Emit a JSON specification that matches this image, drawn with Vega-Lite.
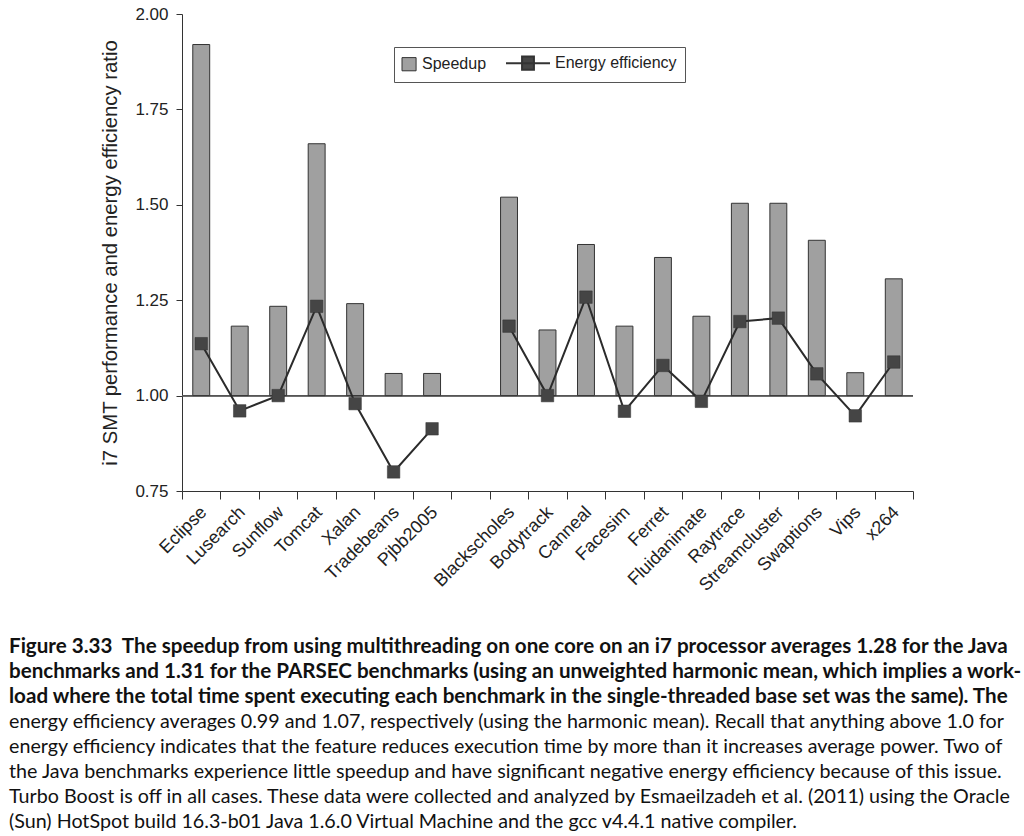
{
  "$schema": "https://vega.github.io/schema/vega-lite/v6.json",
  "autosize": {"type": "none"},
  "padding": {"left": 182, "top": 14, "right": 111, "bottom": 345},
  "width": 731,
  "height": 477,
  "background": "white",
  "title": {
    "text": [
      "Figure 3.33\u00a0 The speedup from using multithreading on one core on an i7 processor averages 1.28 for the Java",
      "benchmarks and 1.31 for the PARSEC benchmarks (using an unweighted harmonic mean, which implies a work-",
      "load where the total time spent executing each benchmark in the single-threaded base set was the same). The"
    ],
    "subtitle": [
      "energy efficiency averages 0.99 and 1.07, respectively (using the harmonic mean). Recall that anything above 1.0 for",
      "energy efficiency indicates that the feature reduces execution time by more than it increases average power. Two of",
      "the Java benchmarks experience little speedup and have significant negative energy efficiency because of this issue.",
      "Turbo Boost is off in all cases. These data were collected and analyzed by Esmaeilzadeh et al. (2011) using the Oracle",
      "(Sun) HotSpot build 16.3-b01 Java 1.6.0 Virtual Machine and the gcc v4.4.1 native compiler."
    ],
    "orient": "bottom",
    "anchor": "start",
    "frame": "group",
    "dx": -173,
    "offset": 43,
    "font": "Lato",
    "fontSize": 20.6,
    "fontWeight": "bold",
    "lineHeight": 25,
    "color": "#111111",
    "subtitleFont": "Lato",
    "subtitleFontSize": 19.7,
    "subtitleFontWeight": "normal",
    "subtitleLineHeight": 25,
    "subtitleColor": "#111111",
    "subtitlePadding": 4.5
  },
  "data": {
    "values": [
      {"b": "Eclipse", "g": "Java", "speedup": 1.92, "energy": 1.136},
      {"b": "Lusearch", "g": "Java", "speedup": 1.182, "energy": 0.96},
      {"b": "Sunflow", "g": "Java", "speedup": 1.234, "energy": 1.0},
      {"b": "Tomcat", "g": "Java", "speedup": 1.66, "energy": 1.234},
      {"b": "Xalan", "g": "Java", "speedup": 1.241, "energy": 0.979},
      {"b": "Tradebeans", "g": "Java", "speedup": 1.058, "energy": 0.8},
      {"b": "Pjbb2005", "g": "Java", "speedup": 1.058, "energy": 0.913},
      {"b": "Blackscholes", "g": "PARSEC", "speedup": 1.52, "energy": 1.182},
      {"b": "Bodytrack", "g": "PARSEC", "speedup": 1.172, "energy": 1.0},
      {"b": "Canneal", "g": "PARSEC", "speedup": 1.396, "energy": 1.258},
      {"b": "Facesim", "g": "PARSEC", "speedup": 1.182, "energy": 0.959},
      {"b": "Ferret", "g": "PARSEC", "speedup": 1.362, "energy": 1.079},
      {"b": "Fluidanimate", "g": "PARSEC", "speedup": 1.208, "energy": 0.985},
      {"b": "Raytrace", "g": "PARSEC", "speedup": 1.504, "energy": 1.194},
      {"b": "Streamcluster", "g": "PARSEC", "speedup": 1.504, "energy": 1.203},
      {"b": "Swaptions", "g": "PARSEC", "speedup": 1.407, "energy": 1.057},
      {"b": "Vips", "g": "PARSEC", "speedup": 1.06, "energy": 0.947},
      {"b": "x264", "g": "PARSEC", "speedup": 1.306, "energy": 1.088}
    ]
  },
  "encoding": {
    "x": {
      "field": "b",
      "type": "nominal",
      "sort": null,
      "title": null,
      "scale": {
        "domain": ["Eclipse", "Lusearch", "Sunflow", "Tomcat", "Xalan", "Tradebeans", "Pjbb2005", " ", "Blackscholes", "Bodytrack", "Canneal", "Facesim", "Ferret", "Fluidanimate", "Raytrace", "Streamcluster", "Swaptions", "Vips", "x264"],
        "paddingInner": 0,
        "paddingOuter": 0
      },
      "axis": {
        "tickBand": "extent",
        "labelAngle": -45,
        "labelAlign": "right",
        "labelBaseline": "top",
        "labelPadding": 4,
        "labelOffset": -4,
        "tickSize": 8,
        "labelFontSize": 18
      }
    }
  },
  "layer": [
    {
      "mark": {"type": "rule", "color": "#555555", "strokeWidth": 1},
      "encoding": {"x": null, "y": {"datum": 1, "type": "quantitative"}}
    },
    {
      "mark": {"type": "bar", "width": {"band": 0.44}, "stroke": "#333333", "strokeWidth": 1},
      "encoding": {
        "y": {
          "field": "speedup",
          "type": "quantitative",
          "title": "i7 SMT performance and energy efficiency ratio",
          "scale": {"domain": [0.75, 2.0], "nice": false, "zero": false},
          "axis": {
            "values": [0.75, 1.0, 1.25, 1.5, 1.75, 2.0],
            "format": ".2f",
            "grid": false,
            "tickSize": 6,
            "labelPadding": 8,
            "labelFontSize": 17,
            "titleFontSize": 20.3,
            "titleFontWeight": "normal",
            "titlePadding": 14
          }
        },
        "y2": {"datum": 1},
        "fill": {
          "datum": "Speedup",
          "type": "nominal",
          "scale": {"domain": ["Speedup", "Energy efficiency"], "range": ["#a0a0a0", "#454545"]},
          "legend": {
            "title": null,
            "orient": "none",
            "legendX": 212,
            "legendY": 33,
            "direction": "horizontal",
            "strokeColor": "#555555",
            "fillColor": "white",
            "padding": 8,
            "symbolSize": 1936,
            "symbolStrokeWidth": 2,
            "symbolStrokeColor": "#333333",
            "labelFontSize": 16,
            "columnPadding": 15,
            "encode": {
              "symbols": {
                "update": {
                  "x": {"value": 22},
                  "shape": {"signal": "datum.value === 'Speedup' ? 'M-1,-0.3H-0.36V0.3H-1Z' : 'M-1,0H1M-0.27,-0.3H0.27V0.3H-0.27Z'"},
                  "strokeWidth": {"signal": "datum.value === 'Speedup' ? 1 : 2"},
                  "stroke": {"value": "#333333"}
                }
              },
              "labels": {
                "update": {
                  "x": {"signal": "datum.value === 'Speedup' ? 20 : 49"}
                }
              }
            }
          }
        }
      }
    },
    {
      "mark": {"type": "line", "color": "#2b2b2b", "strokeWidth": 2},
      "encoding": {
        "y": {"field": "energy", "type": "quantitative"},
        "detail": {"field": "g"},
        "order": {"value": null}
      }
    },
    {
      "mark": {"type": "square", "size": 156, "filled": true, "opacity": 1, "stroke": "#333333", "strokeWidth": 0.5},
      "encoding": {
        "y": {"field": "energy", "type": "quantitative"},
        "fill": {"datum": "Energy efficiency", "type": "nominal"}
      }
    }
  ],
  "config": {
    "view": {"stroke": null},
    "font": "Liberation Sans",
    "axis": {
      "domainColor": "#333333",
      "tickColor": "#333333",
      "labelColor": "#222222",
      "titleColor": "#222222",
      "labelFont": "Liberation Sans",
      "titleFont": "Liberation Sans",
      "grid": false
    },
    "legend": {"labelFont": "Liberation Sans", "labelColor": "#222222"}
  }
}
